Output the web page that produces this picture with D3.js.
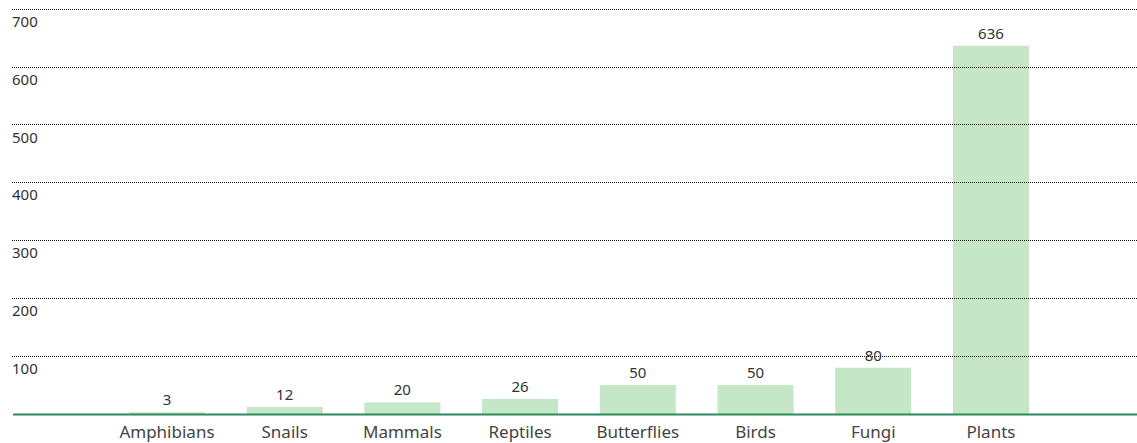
<!DOCTYPE html>
<html>
<head>
<meta charset="utf-8">
<script src="https://cdn.jsdelivr.net/npm/d3@7"></script>
<style>
  html, body { margin: 0; padding: 0; background: #fff; }
  svg { display: block; }
  text { font-family: "Noto Sans", "Open Sans", sans-serif; }
</style>
</head>
<body>
<svg id="chart" width="1137" height="443"></svg>
<script>
// Number of threatened species per group
const categories = ["Amphibians", "Snails", "Mammals", "Reptiles", "Butterflies", "Birds", "Fungi", "Plants"];
const counts = [3, 12, 20, 26, 50, 50, 80, 636];
const yTicks = [100, 200, 300, 400, 500, 600, 700];

const W = 1137, H = 443;
const left = 12, right = 1137;
const svg = d3.select("#chart");

const x = d3.scaleBand()
  .domain(categories)
  .range([108.1, 1049.8])
  .paddingInner(0.354)
  .paddingOuter(0.177);

const y = d3.scaleLinear().domain([0, 700]).range([414, 8.7]);

// bars
svg.append("g").selectAll("rect")
  .data(categories)
  .join("rect")
  .attr("x", d => x(d))
  .attr("width", x.bandwidth())
  .attr("y", (d, i) => y(counts[i]))
  .attr("height", (d, i) => y(0) - y(counts[i]))
  .attr("fill", "#c6e6c8");

// dotted gridlines drawn on top of the bars
const grid = svg.append("g");
grid.selectAll("line")
  .data(yTicks)
  .join("line")
  .attr("x1", left)
  .attr("x2", right)
  .attr("y1", d => Math.round(y(d)) + 0.5)
  .attr("y2", d => Math.round(y(d)) + 0.5)
  .attr("stroke", "#111")
  .attr("stroke-width", 1)
  .attr("stroke-dasharray", "1,1");

// y tick labels sit just below each gridline
grid.selectAll("text")
  .data(yTicks)
  .join("text")
  .attr("x", left)
  .attr("y", d => y(d) + 18)
  .attr("font-size", 15)
  .attr("fill", "#333")
  .text(d => d);

// baseline
svg.append("line")
  .attr("x1", 13).attr("x2", right)
  .attr("y1", y(0) + 0.5).attr("y2", y(0) + 0.5)
  .attr("stroke", "#2a8a5c")
  .attr("stroke-width", 2);

// value labels
svg.append("g").selectAll("text")
  .data(categories)
  .join("text")
  .attr("x", d => x(d) + x.bandwidth() / 2)
  .attr("y", (d, i) => y(counts[i]) - 7)
  .attr("text-anchor", "middle")
  .attr("font-size", 15)
  .attr("fill", "#333")
  .text((d, i) => counts[i]);

// category axis labels
const xAxis = d3.axisBottom(x).tickSize(0).tickPadding(0);
const gx = svg.append("g")
  .attr("transform", `translate(0, ${y(0) + 24})`)
  .call(xAxis);
gx.select(".domain").remove();
gx.selectAll("text")
  .attr("font-size", 17)
  .attr("fill", "#444")
  .attr("dy", "0");
</script>
</body>
</html>
